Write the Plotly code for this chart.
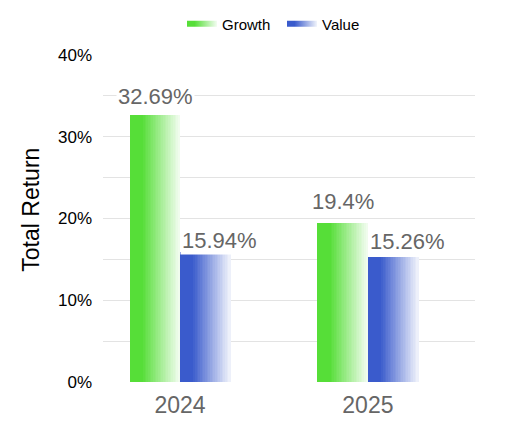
import plotly.graph_objects as go

years = ['2024', '2025']
growth = [32.69, 19.4]
value = [15.94, 15.26]
y_ticks = [0, 10, 20, 30, 40]

series = [
    ('Growth', growth, (86, 222, 56)),
    ('Value', value, (58, 91, 204)),
]

bar_w = 0.266      # width of one bar in category units
n_slices = 30      # slices used to fake the horizontal gradient
solid_part = 0.25  # left share of the bar kept at full colour
fade_max = 0.93    # how close to white the right edge gets

xpos = list(range(len(years)))


def mix(rgb, f):
    r, g, b = (round(c + (255 - c) * f) for c in rgb)
    return f'rgb({r},{g},{b})'


fig = go.Figure()

for k, (name, vals, rgb) in enumerate(series):
    base = -bar_w if k == 0 else 0.003
    for i in range(n_slices):
        t = (i + 0.5) / n_slices
        f = 0 if t < solid_part else (t - solid_part) / (1 - solid_part) * fade_max
        fig.add_trace(go.Bar(
            x=xpos,
            y=vals,
            offset=base + i * bar_w / n_slices,
            width=bar_w / n_slices * 1.08,
            marker=dict(color=mix(rgb, f), line=dict(width=0)),
            showlegend=False,
            hoverinfo='skip',
        ))
    # legend entry with a gradient swatch
    fig.add_trace(go.Scatter(
        x=[None], y=[None],
        mode='none',
        fill='toself',
        fillgradient=dict(
            type='horizontal',
            colorscale=[[0, mix(rgb, 0)], [solid_part, mix(rgb, 0)], [1, mix(rgb, fade_max)]],
        ),
        name=name,
    ))

# data labels with a white box (covers gridlines as in the original)
label_shift = [[4, 7], [-3, 1]]
for k, (name, vals, rgb) in enumerate(series):
    for j, v in enumerate(vals):
        if k == 0:
            fig.add_annotation(x=xpos[j] - bar_w / 2, y=v, xanchor='center')
        else:
            fig.add_annotation(x=xpos[j], y=v, xanchor='left')
        fig.layout.annotations[-1].update(
            text=f'{v:g}%', showarrow=False, yanchor='bottom',
            yshift=label_shift[k][j], bgcolor='white',
            font=dict(size=22, color='#666666'),
        )

# y title sits a little above the middle of the plot, so place it by hand
fig.add_annotation(
    text='Total Return', textangle=-90, showarrow=False,
    xref='paper', yref='paper', x=0, y=0.527,
    xanchor='center', yanchor='middle', xshift=-72,
    font=dict(size=23, color='black'),
)

# page body adds an 8px margin, so the figure is a bit smaller than the window
W, H = 499, 424

fig.update_layout(
    width=W, height=H,
    margin=dict(l=95, r=32, t=47, b=50, autoexpand=False),
    plot_bgcolor='white', paper_bgcolor='white',
    font=dict(family='Arial, Liberation Sans, sans-serif', color='black'),
    barmode='overlay',
    bargap=0,
    legend=dict(
        orientation='h',
        x=174 / W, xanchor='left', xref='container',
        y=1 - 16 / H, yanchor='middle', yref='container',
        font=dict(size=15, color='black'),
        entrywidth=55, entrywidthmode='pixels',
        tracegroupgap=0,
    ),
    xaxis=dict(
        range=[-0.41, 1.57],
        tickvals=xpos, ticktext=years,
        tickfont=dict(size=23, color='#666666'),
        showgrid=False, zeroline=False, showline=False,
        ticklabelstandoff=7,
    ),
    yaxis=dict(
        range=[0, 40],
        tickvals=y_ticks,
        ticktext=[f'{t}%' for t in y_ticks],
        tickfont=dict(size=17, color='black'),
        gridcolor='#e3e3e3', gridwidth=1,
        minor=dict(dtick=5, showgrid=True, gridcolor='#e3e3e3'),
        zeroline=False, showline=False,
        ticklabelstandoff=10,
    ),
)

fig.write_html('out.html')
